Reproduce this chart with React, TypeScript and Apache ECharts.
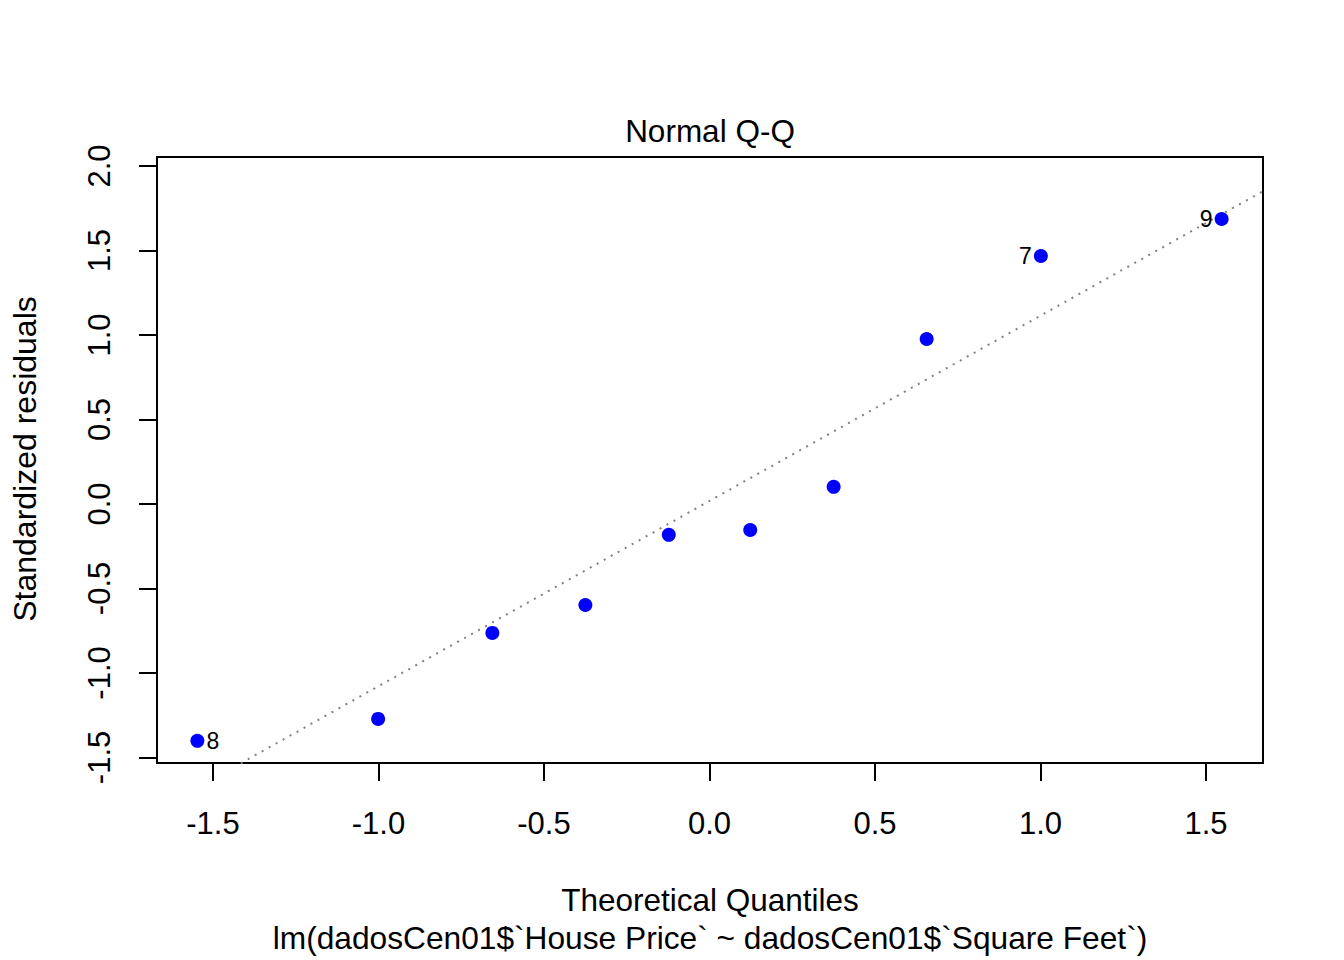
import React, { useEffect, useRef } from "react";
import * as echarts from "echarts";

// Theoretical normal quantiles (ppoints, n = 10)
const theoretical = [-1.547, -1.001, -0.656, -0.375, -0.123, 0.123, 0.375, 0.656, 1.001, 1.547];
// Standardized residuals (sorted)
const residuals = [-1.402, -1.272, -0.763, -0.598, -0.183, -0.154, 0.101, 0.976, 1.467, 1.686];
// Observation ids shown next to the extreme points
const pointIds = ["8", "", "", "", "", "", "", "", "7", "9"];

const xTicks = [-1.5, -1.0, -0.5, 0.0, 0.5, 1.0, 1.5];
const yTicks = [-1.5, -1.0, -0.5, 0.0, 0.5, 1.0, 1.5, 2.0];

const xRange = [-1.669, 1.672];
const yRange = [-1.533, 2.053];

const titleText = "Normal Q-Q";
const xTitle = "Theoretical Quantiles";
const subTitle = "lm(dadosCen01$`House Price` ~ dadosCen01$`Square Feet`)";
const yTitle = "Standardized residuals";

function quantile7(sorted: number[], p: number) {
  const h = (sorted.length - 1) * p;
  const lo = Math.floor(h);
  const hi = Math.min(lo + 1, sorted.length - 1);
  return sorted[lo] + (h - lo) * (sorted[hi] - sorted[lo]);
}

export default function App() {
  const ref = useRef<HTMLDivElement>(null);
  useEffect(() => {
    if (!ref.current) return;
    const chart = echarts.init(ref.current, undefined, { renderer: "svg" });
    const font = "'Liberation Sans', Arial, sans-serif";
    const fs = 31;

    // qqline: through the quartiles
    const sorted = [...residuals].sort((a, b) => a - b);
    const y1 = quantile7(sorted, 0.25);
    const y2 = quantile7(sorted, 0.75);
    const z = 0.6744898;
    const slope = (y2 - y1) / (2 * z);
    const intercept = (y1 + y2) / 2;
    const lineData = xRange.map((x) => [x, intercept + slope * x]);

    const meanX = theoretical.reduce((a, b) => a + b, 0) / theoretical.length;

    const pointData = theoretical.map((x, i) => ({
      value: [x, residuals[i]],
      label: {
        show: pointIds[i] !== "",
        formatter: pointIds[i],
        position: x < meanX ? "right" : "left",
        distance: 2,
        fontSize: 23,
        color: "#000",
        fontFamily: font,
      },
    }));

    const textStyle = (text: string, size: number) => ({
      text,
      fontSize: size,
      fontFamily: font,
      fill: "#000",
      align: "center",
      verticalAlign: "middle",
    });

    chart.setOption({
      animation: false,
      backgroundColor: "#fff",
      grid: {
        left: 157,
        top: 157,
        right: 81,
        bottom: 197,
        show: true,
        borderColor: "#000",
        borderWidth: 2,
        backgroundColor: "transparent",
      },
      xAxis: {
        type: "value",
        min: xRange[0],
        max: xRange[1],
        axisLine: { show: false, onZero: false },
        splitLine: { show: false },
        axisTick: {
          show: true,
          inside: false,
          length: 18,
          customValues: xTicks,
          lineStyle: { color: "#000", width: 2 },
        },
        axisLabel: {
          customValues: xTicks,
          formatter: (v: number) => v.toFixed(1),
          fontSize: fs,
          color: "#000",
          fontFamily: font,
          margin: 45,
        },
      },
      yAxis: {
        type: "value",
        min: yRange[0],
        max: yRange[1],
        axisLine: { show: false, onZero: false },
        splitLine: { show: false },
        axisTick: {
          show: true,
          inside: false,
          length: 18,
          customValues: yTicks,
          lineStyle: { color: "#000", width: 2 },
        },
        axisLabel: {
          customValues: yTicks,
          formatter: (v: number) => v.toFixed(1),
          rotate: 90,
          fontSize: fs,
          color: "#000",
          fontFamily: font,
          margin: 42,
        },
      },
      graphic: [
        { type: "text", x: 710, y: 131, style: textStyle(titleText, 31.5) },
        { type: "text", x: 710, y: 900, style: textStyle(xTitle, 31.5) },
        { type: "text", x: 710, y: 938, style: textStyle(subTitle, 31.7) },
        { type: "text", x: 25, y: 459, rotation: Math.PI / 2, style: textStyle(yTitle, 32) },
      ],
      series: [
        {
          type: "line",
          data: lineData,
          symbol: "none",
          clip: true,
          silent: true,
          lineStyle: { color: "#808080", width: 2, type: [2, 6] },
          z: 1,
        },
        {
          type: "scatter",
          data: pointData,
          symbol: "circle",
          symbolSize: 14,
          itemStyle: { color: "#0000ff", opacity: 1 },
          z: 2,
        },
      ],
    });
    return () => chart.dispose();
  }, []);

  return (
    <div
      ref={ref}
      style={{ position: "absolute", left: 0, top: 0, width: 1344, height: 960, background: "#fff" }}
    />
  );
}
